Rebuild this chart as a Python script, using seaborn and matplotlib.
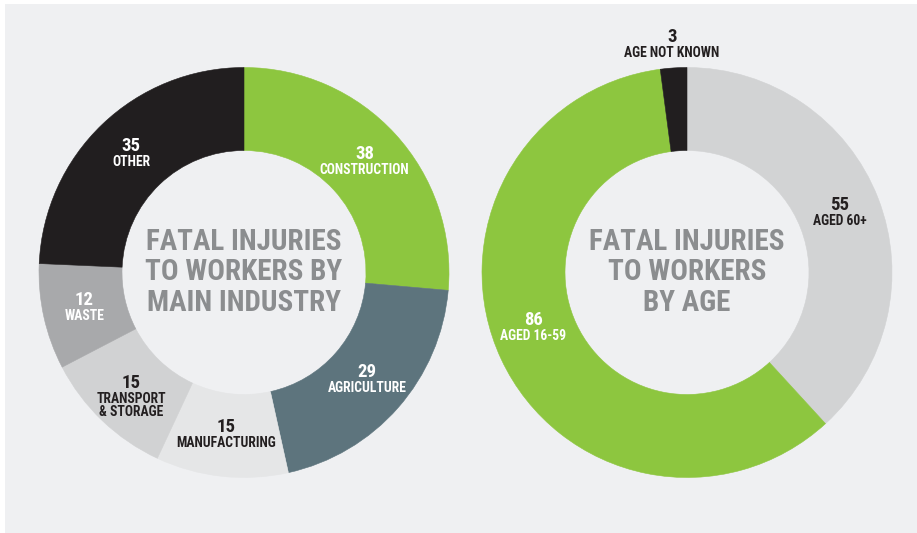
import matplotlib
matplotlib.use("Agg")
import os
import matplotlib.pyplot as plt
import seaborn as sns
import numpy as np
from matplotlib import font_manager
from matplotlib.font_manager import FontProperties

# Fatal injuries to workers, by main industry
industries = ["CONSTRUCTION", "AGRICULTURE", "MANUFACTURING",
              "TRANSPORT\n& STORAGE", "WASTE", "OTHER"]
industry_deaths = [38, 29, 15, 15, 12, 35]

# Fatal injuries to workers, by age
age_groups = ["AGED 60+", "AGED 16-59", "AGE NOT KNOWN"]
age_deaths = [55, 86, 3]

GREEN = "#8dc63f"
SLATE = "#5d747d"
BLACK = "#211e1f"
BG = "#eff0f2"
TITLE_GREY = "#8b8d8f"
DARK_TXT = "#231f20"

industry_colors = [GREEN, SLATE, "#e5e6e7", "#d1d2d3", "#a8a9ab", BLACK]
industry_text = ["white", "white", DARK_TXT, DARK_TXT, "white", "white"]
age_colors = ["#d2d3d4", GREEN, BLACK]
age_text = [DARK_TXT, "white", DARK_TXT]

sns.set_theme(style="white")
plt.rcParams["font.family"] = ["DejaVu Sans"]

# pick a bold condensed face from the installed fonts
font_files = [f.fname for f in font_manager.fontManager.ttflist]
preferred = ["LiberationSansNarrow-Bold.", "RobotoCondensed-Bold.",
             "Roboto_Condensed-Bold.", "OpenSans_Condensed-Bold.",
             "OpenSansCondensed-Bold.", "NotoSans-CondensedBold.",
             "DejaVuSansCondensed-Bold."]
font_path = None
for key in preferred:
    hits = [p for p in font_files if os.path.basename(p).startswith(key)]
    if hits:
        font_path = hits[0]
        break
if font_path is None:
    hits = [p for p in font_files
            if ("ondensed" in p or "Narrow" in p) and "Bold" in p and "Italic" not in p]
    font_path = hits[0] if hits else None


def fp(size):
    if font_path:
        return FontProperties(fname=font_path, size=size)
    return FontProperties(family="DejaVu Sans", weight="bold", stretch="condensed", size=size)


W_PX, H_PX = 917, 533
fig = plt.figure(figsize=(W_PX / 100, H_PX / 100), dpi=100, facecolor="white")
# panel in pixel units (y up), leaving a thin white margin top and left
ax = fig.add_axes([5 / W_PX, 0, (W_PX - 5) / W_PX, (H_PX - 4) / H_PX])

R = 205      # outer radius
RING = 83    # ring thickness


def donut(values, names, colors, text_colors, center, title,
          outside=(), nudge=None):
    nudge = nudge or {}
    wedges, _ = ax.pie(values, colors=colors, startangle=90, counterclock=False,
                       radius=R, center=center, frame=True,
                       wedgeprops=dict(width=RING, linewidth=0.4))
    for w in wedges:
        w.set_edgecolor(w.get_facecolor())
    for w, v, name, tc in zip(wedges, values, names, text_colors):
        ang = np.deg2rad((w.theta1 + w.theta2) / 2 + nudge.get(name, 0))
        r = R + 23 if name in outside else R - RING / 2
        x = center[0] + r * np.cos(ang)
        y = center[1] + r * np.sin(ang)
        ax.text(x, y + 3, str(v), ha="center", va="baseline",
                fontproperties=fp(13.5), color=tc)
        ax.text(x, y - 1, name, ha="center", va="top",
                fontproperties=fp(9.8), color=tc, linespacing=0.95)
    ax.text(center[0], center[1], title, ha="center", va="center",
            fontproperties=fp(21), color=TITLE_GREY, linespacing=1.13)


donut(industry_deaths, industries, industry_colors, industry_text,
      (244, 260.5), "FATAL INJURIES\nTO WORKERS BY\nMAIN INDUSTRY")
donut(age_deaths, age_groups, age_colors, age_text,
      (687, 260.5), "FATAL INJURIES\nTO WORKERS\nBY AGE",
      outside=("AGE NOT KNOWN",), nudge={"AGED 16-59": -5})

ax.set_xlim(5, W_PX)
ax.set_ylim(0, H_PX - 4)
ax.set_aspect("equal")
ax.set_facecolor(BG)
ax.set_xticks([])
ax.set_yticks([])
for s in ax.spines.values():
    s.set_visible(False)

fig.savefig("out.png", dpi=100, facecolor="white")
